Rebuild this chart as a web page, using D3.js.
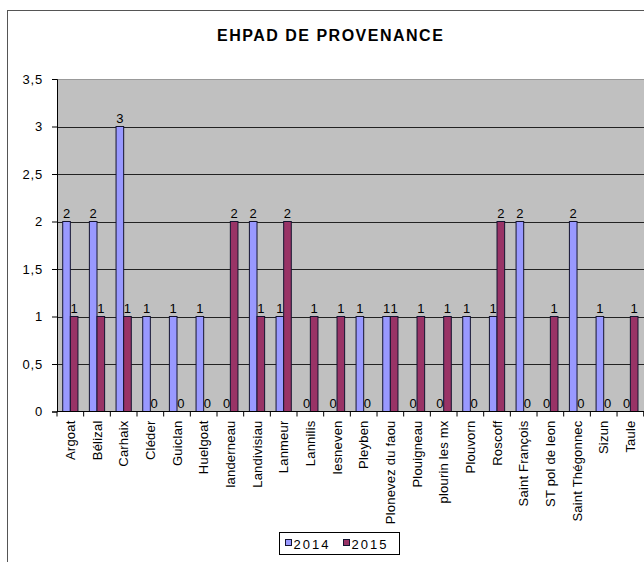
<!DOCTYPE html>
<html>
<head>
<meta charset="utf-8">
<script src="https://cdn.jsdelivr.net/npm/d3@7"></script>
<style>
  body { margin: 0; background: #fff; }
  text { font-family: "Liberation Sans", Arial, sans-serif; fill: #000; }
</style>
</head>
<body>
<div id="chart"></div>
<script>
// data
const communes = ['Argoat', 'Bélizal', 'Carhaix', 'Cléder', 'Guiclan', 'Huelgoat', 'landerneau',
  'Landivisiau', 'Lanmeur', 'Lannilis', 'lesneven', 'Pleyben', 'Plonevez du faou', 'Plouigneau',
  'plourin les mx', 'Plouvorn', 'Roscoff', 'Saint François', 'ST pol de leon', 'Saint Thégonnec',
  'Sizun', 'Taule'];
const years = ['2014', '2015'];
const values2014 = [2, 2, 3, 1, 1, 1, 0, 2, 1, 0, 0, 1, 1, 0, 0, 1, 1, 2, 0, 2, 1, 0];
const values2015 = [1, 1, 1, 0, 0, 0, 2, 1, 2, 1, 1, 0, 1, 1, 1, 0, 2, 0, 1, 0, 0, 1];
const yTicks = [0, 0.5, 1, 1.5, 2, 2.5, 3, 3.5];
const colors = {'2014': '#9999FF', '2015': '#993366'};

const W = 644, H = 562;
const plot = {left: 57, right: 643.7, top: 79, bottom: 411.5};

const svg = d3.select('#chart').append('svg')
  .attr('width', W)
  .attr('height', H);

// outer chart frame (cut off on the right and bottom)
svg.append('rect')
  .attr('x', 7.5).attr('y', 10.5)
  .attr('width', 700).attr('height', 600)
  .attr('fill', '#fff')
  .attr('stroke', '#555');

const x = d3.scaleBand().domain(communes).range([plot.left, plot.right]);
const xSub = d3.scaleBand().domain(years).range([0, x.bandwidth()]).paddingOuter(0.75);
const y = d3.scaleLinear().domain([0, 3.5]).range([plot.bottom, plot.top]);

// plot background
svg.append('rect')
  .attr('x', plot.left).attr('y', plot.top)
  .attr('width', 660 - plot.left).attr('height', plot.bottom - plot.top)
  .attr('fill', '#C0C0C0');

// gridlines
svg.append('g').selectAll('line')
  .data(yTicks.filter(d => d > 0))
  .enter().append('line')
  .attr('x1', plot.left).attr('x2', 660)
  .attr('y1', d => Math.round(y(d)) + 0.5)
  .attr('y2', d => Math.round(y(d)) + 0.5)
  .attr('stroke', d => d === 3.5 ? '#999' : '#222');

// title
svg.append('text')
  .attr('x', 217).attr('y', 41)
  .style('font-size', '16px')
  .style('font-weight', 'bold')
  .style('letter-spacing', '1.5px')
  .text('EHPAD DE PROVENANCE');

// bars
const rows = communes.map((c, i) => ({commune: c, '2014': values2014[i], '2015': values2015[i]}));

const groups = svg.append('g').selectAll('g')
  .data(rows)
  .enter().append('g')
  .attr('transform', d => `translate(${x(d.commune)},0)`);

const cells = groups.selectAll('g')
  .data(d => years.map(yr => ({year: yr, value: d[yr]})))
  .enter().append('g');

cells.filter(d => d.value > 0).append('rect')
  .attr('x', d => xSub(d.year))
  .attr('y', d => y(d.value))
  .attr('width', xSub.bandwidth())
  .attr('height', d => y(0) - y(d.value))
  .attr('fill', d => colors[d.year])
  .attr('stroke', '#141430')
  .attr('stroke-width', 1);

cells.append('text')
  .attr('x', d => xSub(d.year) + xSub.bandwidth() / 2)
  .attr('y', d => y(d.value) - 4)
  .attr('text-anchor', 'middle')
  .style('font-size', '13px')
  .text(d => d.value);

// y axis
const yAxis = svg.append('g')
  .attr('transform', `translate(${plot.left},0)`)
  .call(d3.axisLeft(y).tickValues(yTicks).tickSize(5).tickPadding(9)
    .tickFormat(d => String(d).replace('.', ',')));
yAxis.select('.domain').attr('stroke', '#000');
yAxis.selectAll('.tick line').attr('stroke', '#000');
yAxis.selectAll('text')
  .style('font-size', '13px')
  .style('letter-spacing', '0.8px')
  .style('font-family', '"Liberation Sans", Arial, sans-serif');

// x axis with ticks between categories
const xAxis = svg.append('g')
  .attr('transform', `translate(0,${plot.bottom})`);
xAxis.append('line')
  .attr('x1', plot.left).attr('x2', 660)
  .attr('stroke', '#000');
xAxis.selectAll('.tk')
  .data(communes.concat(['end']))
  .enter().append('line')
  .attr('class', 'tk')
  .attr('x1', (d, i) => plot.left + i * x.step())
  .attr('x2', (d, i) => plot.left + i * x.step())
  .attr('y1', 0).attr('y2', 5)
  .attr('stroke', '#000');
xAxis.selectAll('.lbl')
  .data(communes)
  .enter().append('text')
  .attr('class', 'lbl')
  .attr('transform', d => `translate(${x(d) + x.bandwidth() / 2 + 4.5},9) rotate(-90)`)
  .attr('text-anchor', 'end')
  .style('font-size', '13px')
  .style('letter-spacing', '0.2px')
  .text(d => d);

// legend
const legend = svg.append('g').attr('transform', 'translate(279.5,532.5)');
legend.append('rect')
  .attr('width', 120).attr('height', 22)
  .attr('fill', '#fff').attr('stroke', '#000');
years.forEach((yr, i) => {
  const lx = 6 + i * 58;
  legend.append('rect')
    .attr('x', lx).attr('y', 7)
    .attr('width', 6).attr('height', 6)
    .attr('fill', colors[yr]).attr('stroke', '#141430');
  legend.append('text')
    .attr('x', lx + 8).attr('y', 16)
    .style('font-size', '13px')
    .style('letter-spacing', '2px')
    .text(yr);
});
</script>
</body>
</html>
